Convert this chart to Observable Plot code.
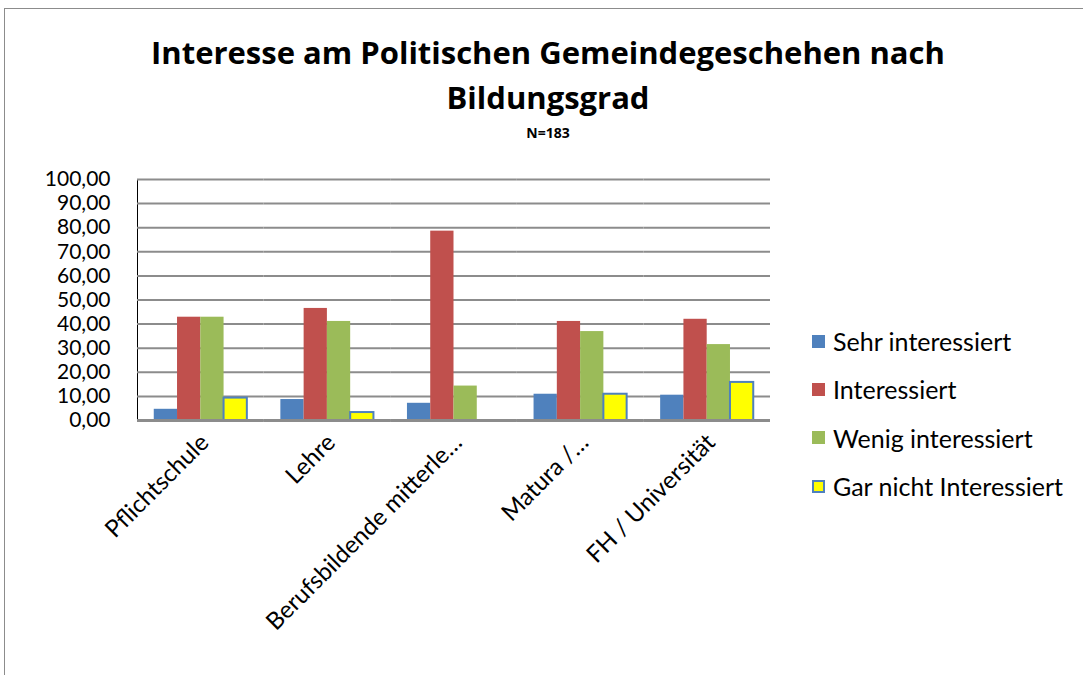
<!DOCTYPE html>
<html><head><meta charset="utf-8">
<script src="https://cdn.jsdelivr.net/npm/d3@7"></script>
<script src="https://cdn.jsdelivr.net/npm/@observablehq/plot@0.6"></script>
<style>
body{margin:0;background:#fff;font-family:"Open Sans",sans-serif;}
#wrap{position:relative;width:1083px;height:675px;overflow:hidden;background:#fff}
#border{position:absolute;left:4px;top:8px;width:1200px;height:700px;border:1.5px solid #8c8c8c;}
.t{position:absolute;left:0;width:1096px;text-align:center;font-weight:bold;color:#000;}
#t1{top:30px;font-size:31px;line-height:45px;}
#t2{top:75px;font-size:31px;line-height:45px;}
#t3{top:123px;font-size:14px;line-height:20px;}
#chart{position:absolute;left:0;top:150px;}
#legend{position:absolute;left:812px;top:317px;font-family:Lato,sans-serif;}
.row{display:flex;align-items:center;height:48.3px;font-size:25px;color:#000;}
.sw{width:13px;height:13px;margin-right:8px;box-sizing:border-box;}
</style></head>
<body><div id="wrap">
<div id="border"></div>
<div class="t" id="t1">Interesse am Politischen Gemeindegeschehen nach</div>
<div class="t" id="t2">Bildungsgrad</div>
<div class="t" id="t3">N=183</div>
<div id="chart"></div>
<div id="legend"></div>
</div>
<script>
const categories = ["Pflichtschule", "Lehre", "Berufsbildende mitterle…", "Matura /…", "FH / Universität"];
const seriesNames = ["Sehr interessiert", "Interessiert", "Wenig interessiert", "Gar nicht Interessiert"];
const sehrInteressiert   = [4.65, 8.7, 7.14, 10.9, 10.5];
const interessiert       = [42.86, 46.5, 78.57, 41.1, 42.0];
const wenigInteressiert  = [42.86, 41.1, 14.29, 36.9, 31.5];
const garNichtInteressiert = [9.3, 3.3, 0, 10.9, 15.8];
const yTicks = [0,10,20,30,40,50,60,70,80,90,100];
const colors = ["#4F81BD", "#C0504D", "#9BBB59", "#FFFF00"];

const seriesValues = [sehrInteressiert, interessiert, wenigInteressiert, garNichtInteressiert];
const data = [];
categories.forEach((c, i) => seriesNames.forEach((s, j) => data.push({category: c, series: s, value: seriesValues[j][i]})));

const fmt = v => d3.format(".2f")(v).replace(".", ",");

const chart = Plot.plot({
  width: 1083, height: 525,
  marginLeft: 137, marginRight: 313, marginTop: 29, marginBottom: 255,
  style: {fontFamily: 'Lato, sans-serif', fontSize: "21px", color: "#000", background: "transparent"},
  fx: {domain: categories, padding: 0, round: false, label: null},
  x: {domain: seriesNames, paddingInner: 0, paddingOuter: 0.72, round: false, axis: null},
  y: {domain: [0, 100], ticks: yTicks, tickFormat: fmt, label: null, tickSize: 0, tickPadding: 27, line: true},
  color: {domain: seriesNames, range: colors},
  marks: [
    Plot.ruleY(yTicks, {stroke: "#8c8c8c", strokeWidth: 2}),
    Plot.barY(data, {fx: "category", x: "series", y: "value", fill: "series",
      stroke: d => d.series === seriesNames[3] ? "#4F81BD" : "none", strokeWidth: 2, inset: 0}),
    Plot.ruleY([0], {stroke: "#8c8c8c", strokeWidth: 3}),
    Plot.axisFx({anchor: "bottom", tickRotate: -45, tickSize: 0, tickPadding: 18, fontSize: 24, label: null, dx: 4})
  ]
});
document.getElementById("chart").appendChild(chart);

const legend = document.getElementById("legend");
seriesNames.forEach((s, j) => {
  const row = document.createElement("div");
  row.className = "row";
  const sw = document.createElement("span");
  sw.className = "sw";
  sw.style.background = colors[j];
  if (j === 3) sw.style.border = "2px solid #4F81BD";
  const tx = document.createElement("span");
  tx.textContent = s;
  row.appendChild(sw); row.appendChild(tx);
  legend.appendChild(row);
});
</script>
</body></html>
